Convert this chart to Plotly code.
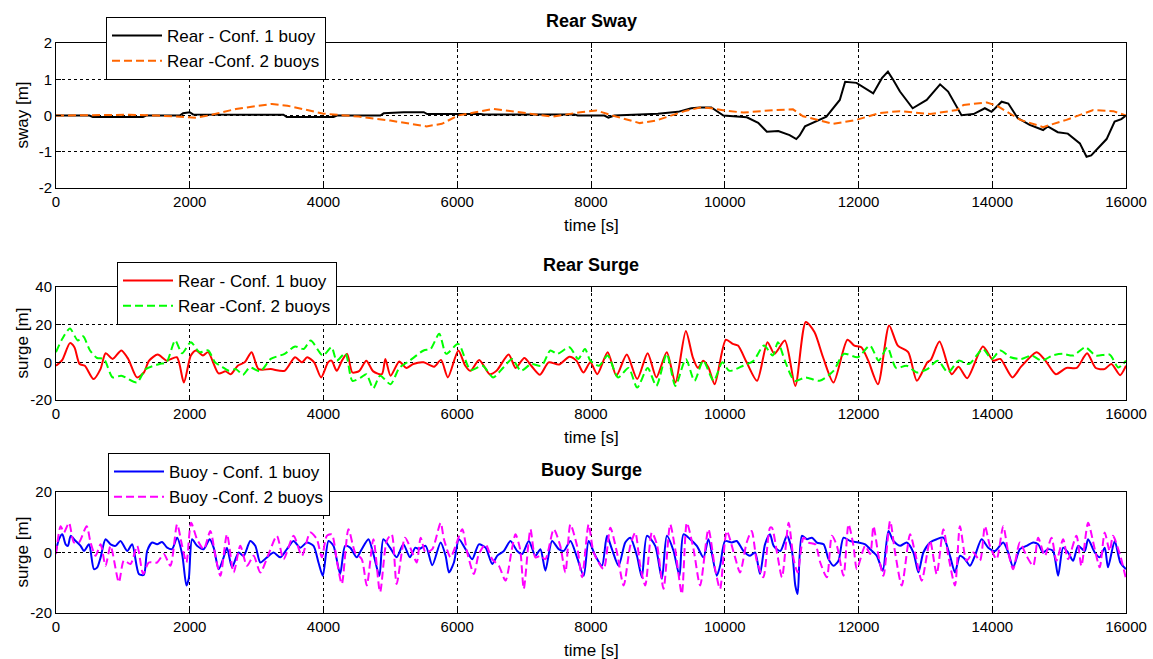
import plotly.graph_objects as go

# ---------------- data ----------------
# Rear Sway
sway1_t = [0, 500, 550, 1300, 1350, 1850, 1900, 2000, 2050, 3400, 3450, 4150, 4200, 4850, 4900, 5200, 5500, 5550,
           6350, 6400, 7750, 7800, 8200, 8260, 8350, 8800, 9000, 9300, 9500, 9630, 9800, 9980, 10330, 10500, 10630,
           10800, 10970, 11070, 11120, 11200, 11520, 11720, 11800, 11970, 12220, 12350, 12440, 12520, 12620, 12810,
           13020, 13220, 13340, 13540, 13720, 13890, 13990, 14140, 14240, 14380, 14560, 14760, 14830, 14980, 15130,
           15310, 15410, 15480, 15710, 15830, 15930, 16000]
sway1_v = [0, 0, -0.04, -0.04, 0, 0, 0.06, 0.09, 0.03, 0.02, -0.04, -0.04, 0, 0, 0.06, 0.09, 0.09, 0.04,
           0.04, 0.03, 0.03, 0, 0, -0.06, 0, 0.03, 0.05, 0.1, 0.2, 0.22, 0.22, 0.0, -0.05, -0.2, -0.45,
           -0.43, -0.54, -0.65, -0.55, -0.3, -0.03, 0.43, 0.93, 0.9, 0.61, 1.03, 1.21, 0.98, 0.66, 0.2,
           0.43, 0.86, 0.66, 0.01, 0.04, 0.2, 0.1, 0.38, 0.33, -0.07, -0.26, -0.4, -0.3, -0.46, -0.5,
           -0.77, -1.14, -1.1, -0.65, -0.17, -0.1, 0.0]
sway2_t = [0, 900, 1100, 1500, 2100, 2280, 2690, 3230, 3460, 4000, 4530, 5000, 5540, 5770, 6010, 6540, 6900, 7430,
           7840, 8080, 8320, 8730, 8970, 9200, 9400, 9630, 9800, 10030, 10280, 10730, 11020, 11170, 11620, 11970,
           12320, 12620, 13070, 13470, 13570, 13920, 14070, 14420, 14760, 15110, 15510, 15810, 16000]
sway2_v = [0, 0.02, 0.02, 0, -0.06, 0, 0.18, 0.32, 0.27, 0.05, -0.03, -0.14, -0.3, -0.23, 0, 0.18, 0.09, -0.03,
           0.09, 0.14, 0, -0.21, -0.14, 0, 0.12, 0.22, 0.2, 0.13, 0.08, 0.15, 0.17, -0.02, -0.23, -0.12,
           0.07, 0.12, 0.04, 0.15, 0.29, 0.36, 0.27, -0.12, -0.32, -0.12, 0.15, 0.12, 0.0]

# Rear Surge
surge1_t = [0, 94, 208, 275, 353, 431, 561, 665, 743, 847, 977, 1080, 1210, 1314, 1392, 1522, 1652, 1808, 1912,
            2016, 2094, 2198, 2275, 2431, 2535, 2613, 2717, 2821, 2925, 3029, 3211, 3418, 3574, 3678, 3756, 3860,
            3964, 4068, 4120, 4198, 4276, 4354, 4432, 4536, 4640, 4744, 4873, 4925, 5003, 5133, 5237, 5341, 5497,
            5653, 5757, 5860, 6016, 6120, 6198, 6328, 6484, 6587, 6769, 6873, 7003, 7107, 7237, 7366, 7522, 7678,
            7782, 7886, 7990, 8094, 8249, 8379, 8535, 8691, 8847, 8977, 9133, 9262, 9418, 9522, 9600, 9678, 9756,
            9850, 10016, 10120, 10198, 10327, 10483, 10639, 10743, 10899, 11055, 11211, 11341, 11470, 11626, 11834,
            11938, 12042, 12146, 12291, 12458, 12588, 12743, 12873, 13029, 13081, 13211, 13392, 13496, 13626, 13860,
            14016, 14120, 14302, 14431, 14665, 14795, 14951, 15107, 15263, 15418, 15548, 15678, 15782, 15912, 16000]
surge1_v = [-1.8, 1.3, 10.2, 8, -0.9, -1.8, -8.9, -3.6, 4.8, 1.8, 6.3, 1.8, -8, -5.4, 0.9, 4.1, 0.9, 2.7, -10.7,
            3.6, 6.3, 3.6, 5.4, -5.9, -4.8, -6.3, -1.8, 0, 5.4, -3.6, -3.6, -4.5, 2.7, 0, 2.7, 0,
            -8, 0, 0.9, -4.5, 0.9, 4.5, -5.4, -4.5, 0.9, -4.8, -6.3, 1.8, -7.1, 0.5, -3, -0.9, 0,
            -2.3, 1.3, -8, 6.3, -1.8, -4.5, 1.3, -6.3, -4.5, 4.1, -3, 2.3, -1.8, -6.6, 0, -1.2, 3,
            0.9, -5.4, 0, -6.3, 5.4, -7.1, 4.1, -8.9, 4.8, -8, 5.4, -10.7, 16.6, 2.7, -3, 0.9, -2.7,
            -11.6, 12, 9.8, 8.9, 0, -9.8, 10.7, 4.5, 11.6, -12.5, 21.4, 16.1, 2.7, -10.7, 12,
            8.9, 8, 0.9, -11.6, 19.6, 8.9, 5.4, -9.8, 0, 1.3, 11, -6.3, -2.3, -8.4, 8.4,
            0.9, 1.8, -8, -2.3, 5.4, 0.9, -6.3, -3, -3, 4.8, -3, -3.6, -0.9, -6.8, -1.8]
surge2_t = [0, 94, 208, 327, 405, 509, 613, 717, 847, 977, 1210, 1340, 1548, 1652, 1782, 1886, 2016, 2146, 2275,
            2379, 2483, 2587, 2691, 2795, 2899, 3055, 3211, 3418, 3574, 3704, 3808, 3990, 4120, 4198, 4327, 4432,
            4562, 4640, 4744, 4847, 5003, 5133, 5289, 5497, 5601, 5731, 5835, 6016, 6198, 6380, 6536, 6691, 6821,
            6951, 7107, 7262, 7392, 7496, 7678, 7808, 7910, 7990, 8120, 8249, 8405, 8561, 8691, 8847, 8977, 9133,
            9262, 9418, 9548, 9678, 9834, 9964, 10068, 10275, 10431, 10587, 10717, 10795, 10899, 11044, 11211,
            11418, 11626, 11782, 11990, 12172, 12302, 12432, 12562, 12718, 12873, 13029, 13185, 13340, 13496,
            13652, 13860, 13990, 14120, 14275, 14431, 14587, 14743, 14899, 15055, 15211, 15392, 15548, 15756,
            15886, 16000]
surge2_v = [5.4, 12.5, 17.9, 11.6, 13.8, 6.3, 2.3, 1.8, -8, -7.1, -10.7, -3.6, -0.9, 0, 11.6, 4.8, 10.7, 5.4, 6.3,
            0, -2.3, -4.5, -3.6, -6.6, -2.7, -4.8, 1.8, 4.5, 8.4, 7.1, 11.6, 3.6, 8, 0.9, 4.8, -9.8,
            -8, -6.3, -13.8, -7.1, -11.6, -3, 0.9, 6.3, 7.1, 15.2, 4.5, 9.8, -4.1, -1.8, -8, -2.7, 1.8,
            -4.5, -0.9, -1.8, 6.3, 4.5, 8, 1.8, 7.1, 0.9, -1.8, 3.6, -8, -3, -13.4, -3, -12.5, 4.5,
            -12.5, 1.8, -9.8, 0.9, -9.8, 0, -4.5, -1.8, 0.9, 8.9, 3.6, 10.7, 0.9, -9.8, -8,
            -9.8, -4.5, 4.5, 2.7, 8.9, 0.9, 8, -3, -1.8, -5.4, -3.6, 0.9, -5.4, 0.9,
            -0.9, 7.1, 1.8, 6.3, 2.7, 1.8, 3.6, 0.9, 3.6, 4.5, 3.6, 8, 3.6, 4.1,
            -2.7, 0.9]

# Buoy Surge
buoy1_t = [0, 45, 95, 144, 179, 219, 294, 368, 418, 493, 567, 617, 667, 741, 816, 891, 965, 1065, 1139, 1239, 1313,
           1363, 1438, 1512, 1587, 1662, 1736, 1811, 1886, 1950, 1985, 2035, 2109, 2209, 2298, 2358, 2433, 2507,
           2557, 2632, 2731, 2806, 2905, 2980, 3055, 3154, 3254, 3353, 3453, 3552, 3652, 3751, 3851, 3925, 3990,
           4075, 4149, 4249, 4323, 4398, 4497, 4572, 4672, 4746, 4836, 4895, 4995, 5094, 5194, 5293, 5373, 5428,
           5527, 5627, 5751, 5826, 5876, 5950, 6025, 6124, 6224, 6323, 6423, 6523, 6597, 6697, 6796, 6896, 6970,
           7070, 7169, 7244, 7318, 7418, 7517, 7592, 7692, 7791, 7891, 7965, 8065, 8164, 8239, 8313, 8413, 8512,
           8587, 8687, 8761, 8836, 8960, 9060, 9134, 9234, 9323, 9383, 9483, 9582, 9682, 9756, 9881, 9930, 10005,
           10104, 10179, 10279, 10378, 10453, 10527, 10602, 10677, 10731, 10831, 10930, 11005, 11055, 11090,
           11154, 11229, 11303, 11378, 11478, 11552, 11627, 11701, 11776, 11876, 12000, 12100, 12174, 12274,
           12363, 12448, 12522, 12622, 12721, 12821, 12896, 12970, 13070, 13169, 13269, 13368, 13443, 13517,
           13592, 13667, 13741, 13841, 13940, 14040, 14164, 14239, 14313, 14413, 14512, 14612, 14687, 14761,
           14836, 14910, 14985, 15060, 15134, 15209, 15284, 15383, 15433, 15533, 15607, 15682, 15731, 15831,
           15915, 16000]
buoy1_v = [0.5, 4.4, 6, 2.7, 2.2, 5.5, 3.8, 2.2, 0.5, 2.7, -5.5, -4.9, -1.6, 4.4, 2.7, 2.2, 3.8, 0.5, 2.7, -7.1, -7.4,
           0.5, 3.3, 2.7, 3.5, 1.6, 1.1, 4.9, -0.5, -10.9, -8.7, 4.4, 2.2, 1.1, 4.4, 1.6, -5.5, -1.6,
           1.6, -4.9, 0, -1.1, 3.8, 2.2, -3.3, -1.6, 0, -1.6, 1.1, 3.8, 1.6, 3.3, 2.2, -3.3, -7.7,
           3.8, 2.2, -7.1, 2.2, 1.6, -1.6, 1.1, 4.4, -0.5, -7.7, 4.4, 1.6, -1.6, 2.7, -1.6, 1.6, 1.1,
           2.2, -4.2, 3.3, -1.1, -6.6, -3.3, 4.4, 1.1, -2.2, 2.7, 1.6, -3.8, -1.1, 0.5, 3.8, 0.5, -0.5,
           3.8, -1.1, 1.1, -6, 3.8, 1.1, 0.5, 3.8, -1.6, -7.7, 3.8, -1.1, -4.4, 5.5, 1.1, -4.4, 3.3,
           4.9, -1.1, -8.2, 5.5, 2.2, -8.7, 5.5, 0.5, -7.7, 6, 4.4, 2.2, -1.6, 4.4, -7.7, -4.4, 3.8,
           3.3, 3.8, 0.5, -1.1, 0, -7.1, 2.7, 6, 2.2, 0.5, 5.5, 0.5, -10.9, -13.7,
           5.5, 4.4, 4.9, 3.3, 2.7, -2.2, -4.4, -2.7, 4.9, 3.8, 3.3, 2.7, 1.1, -1.1,
           -6, 7.1, 3.8, 2.2, 3.3, 0, -6.6, 0, 3.3, 4.4, 4.9, -1.1, -6.6, -1.1,
           -2.2, -4.4, -1.1, 4.4, 1.6, 0.5, 3.3, 0, -4.9, 1.1, 2.2, 3.3, 2.7, 0,
           1.1, 0.5, -7.7, 1.6, 0, -2.7, 2.2, 0.5, 4.4, 0, -1.6, 1.6, -4.9, 3.8,
           -3.3, -5.5]
buoy2_t = [0, 70, 119, 194, 269, 343, 458, 517, 592, 667, 741, 816, 940, 1015, 1114, 1214, 1303, 1388, 1512, 1612,
           1711, 1811, 1886, 1950, 2020, 2109, 2209, 2308, 2383, 2458, 2557, 2657, 2756, 2856, 2955, 3055, 3179,
           3303, 3403, 3552, 3677, 3801, 3900, 3975, 4050, 4124, 4199, 4274, 4373, 4473, 4572, 4647, 4746, 4846,
           4945, 5020, 5094, 5219, 5318, 5393, 5453, 5527, 5627, 5751, 5801, 5900, 5975, 6075, 6149, 6249, 6323,
           6423, 6523, 6622, 6721, 6821, 6871, 6940, 6995, 7095, 7169, 7244, 7318, 7443, 7540, 7617, 7692, 7791,
           7866, 7965, 8040, 8189, 8289, 8388, 8488, 8587, 8662, 8736, 8811, 8910, 8985, 9085, 9184, 9259, 9358,
           9433, 9533, 9632, 9756, 9856, 9930, 10030, 10154, 10229, 10328, 10403, 10478, 10577, 10677, 10706,
           10781, 10856, 10955, 11030, 11090, 11179, 11254, 11353, 11428, 11527, 11602, 11677, 11776, 11851,
           11925, 11975, 12100, 12174, 12224, 12299, 12373, 12473, 12547, 12647, 12771, 12846, 12945, 13070,
           13169, 13269, 13343, 13443, 13517, 13617, 13716, 13816, 13891, 13965, 14065, 14164, 14239, 14313,
           14413, 14512, 14612, 14687, 14786, 14886, 14960, 15060, 15134, 15259, 15333, 15433, 15533, 15607,
           15682, 15756, 15806, 15915, 16000]
buoy2_v = [-0.5, 8.7, 6.6, 9.8, 3.3, 3.3, 8.7, 3.3, -1.1, 2.7, -4.4, 2.2, -9.8, -2.7, -3.8, 2.2, -7.1, -3.3, -3.3, -0.5,
           -4.4, 9.3, 2.2, -3.3, 9.8, 4.4, 1.1, 7.1, -1.1, -7.7, 6, -6.6, 2.2, -4.4, -1.1, -6.6, -0.5,
           5.5, -2.2, 5.5, -1.1, 6.6, 4.4, -1.6, 5.5, 6, -2.7, -10.4, 7.7, 0, -2.2, -10.9, 4.4, -13.1,
           3.8, 6, -10.4, 4.9, 0.5, -3.3, 4.9, 0, 1.1, 9.8, 4.4, -1.6, 2.2, 7.7, 0, -7.1, -0.5,
           2.7, -2.2, -4.4, -9.3, 1.6, 6, 1.1, -12, 7.7, -1.6, -1.1, -2.2, 7.7, 2.2, -6.6, 9.3, 2.2,
           -8.2, 9.3, 0, -5.5, 8.2, 0, -10.9, 2.2, 6.6, -4.4, -10.9, 6.6, 2.7, -12, 9.3, 1.1, -13.7,
           9.8, 1.1, -10.9, 7.7, -5.5, -12, 7.1, -1.6, -6.6, 3.3, 7.1, -2.7, -8.2, 8.2, 8.2,
           0, -8.2, 9.8, -2.2, -6.6, 4.9, 3.3, 2.7, -3.3, -8.2, 5.5, 2.2, -7.7, 9.3,
           2.2, -5.5, 2.2, -0.5, 8.7, -1.1, -7.7, 10.4, 0, -10.9, 6, 0, -9.3, 3.8,
           -7.1, 7.7, -1.1, -10.9, 8.7, -2.7, 0, -2.7, 8.7, 2.2, -2.2, 8.7, 0, -5.5,
           3.3, -1.1, -4.4, 4.9, -1.1, 4.9, -2.7, 4.4, -2.2, 5.5, -4.4, 9.8, 1.1, -4.9,
           6.6, 0.5, 5.5, -1.1, -8.7]

x_ticks = [0, 2000, 4000, 6000, 8000, 10000, 12000, 14000, 16000]
y_ticks = [[-2, -1, 0, 1, 2], [-20, 0, 20, 40], [-20, 0, 20]]
titles = ["Rear Sway", "Rear Surge", "Buoy Surge"]
ylabels = ["sway [m]", "surge [m]", "surge [m]"]
xlabel = "time [s]"
names = [["Rear - Conf. 1 buoy", "Rear -Conf. 2 buoys"],
         ["Rear - Conf. 1 buoy", "Rear -Conf. 2 buoys"],
         ["Buoy - Conf. 1 buoy", "Buoy -Conf. 2 buoys"]]

# ---------------- figure ----------------
W, H = 1153, 659
ML, MR = 56, 27
FONT = "Liberation Sans, Arial, sans-serif"

fig = go.Figure()
series = [
    (sway1_t, sway1_v, sway2_t, sway2_v, "black", "rgb(255,102,0)", "linear"),
    (surge1_t, surge1_v, surge2_t, surge2_v, "rgb(255,0,0)", "rgb(0,255,0)", "spline"),
    (buoy1_t, buoy1_v, buoy2_t, buoy2_v, "rgb(0,0,255)", "rgb(255,0,255)", "spline"),
]
for i, (t1, v1, t2, v2, c1, c2, shp) in enumerate(series):
    sfx = "" if i == 0 else str(i + 1)
    leg = "legend" if i == 0 else "legend" + str(i + 1)
    fig.add_trace(go.Scatter(x=t1, y=v1, mode="lines", name=names[i][0],
                             line=dict(color=c1, width=2, shape=shp, smoothing=0.7),
                             xaxis="x" + sfx, yaxis="y" + sfx, legend=leg))
    fig.add_trace(go.Scatter(x=t2, y=v2, mode="lines", name=names[i][1],
                             line=dict(color=c2, width=2, dash="8px,4px", shape=shp, smoothing=0.7),
                             xaxis="x" + sfx, yaxis="y" + sfx, legend=leg))

# plot-area pixel boxes (top, bottom)
boxes = [(43, 188), (287, 400), (492, 613)]
yranges = [[-2, 2], [-20, 40], [-20, 20]]

axis_common = dict(showline=True, linecolor="black", linewidth=1, mirror="ticks", ticks="inside", ticklen=5,
                   tickcolor="black", showgrid=True, gridcolor="black", gridwidth=1, griddash="3px,3px",
                   zeroline=False, tickfont=dict(family=FONT, size=15, color="black"))

for i in range(3):
    sfx = "" if i == 0 else str(i + 1)
    top, bot = boxes[i]
    dom = [1 - bot / H, 1 - top / H]
    fig.update_layout(**{
        "xaxis" + sfx: dict(axis_common, domain=[0, 1], range=[0, 16000], tickvals=x_ticks,
                            ticktext=[str(v) for v in x_ticks], anchor="y" + sfx),
        "yaxis" + sfx: dict(axis_common, domain=dom, range=yranges[i], tickvals=y_ticks[i],
                            ticktext=[str(v) for v in y_ticks[i]], anchor="x" + sfx),
    })
    # titles
    fig.add_annotation(text="<b>" + titles[i] + "</b>", xref="paper", yref="paper", x=0.5, y=1 - (top - 22) / H,
                       showarrow=False, font=dict(family=FONT, size=18, color="black"), yanchor="middle")
    fig.add_annotation(text=xlabel, xref="paper", yref="paper", x=0.5, y=1 - (bot + 37) / H,
                       showarrow=False, font=dict(family=FONT, size=17, color="black"), yanchor="middle")
    fig.add_annotation(text=ylabels[i], xref="paper", yref="paper", x=-(56 - 22) / (W - ML - MR),
                       y=1 - (top + bot) / 2 / H, textangle=-90, showarrow=False,
                       font=dict(family=FONT, size=17, color="black"), xanchor="center", yanchor="middle")

legend_pos = [(106, 17), (117, 262), (108, 453)]
leg_common = dict(bgcolor="white", bordercolor="black", borderwidth=1, font=dict(family=FONT, size=17, color="black"),
                  xanchor="left", yanchor="top", itemwidth=50, tracegroupgap=0)
for i, (lx, ly) in enumerate(legend_pos):
    key = "legend" if i == 0 else "legend" + str(i + 1)
    fig.update_layout(**{key: dict(leg_common, x=(lx - ML) / (W - ML - MR), y=1 - ly / H)})

fig.update_layout(width=W, height=H, margin=dict(l=ML, r=MR, t=0, b=0, autoexpand=False),
                  paper_bgcolor="white", plot_bgcolor="white", showlegend=True)

fig.write_html("out.html")
